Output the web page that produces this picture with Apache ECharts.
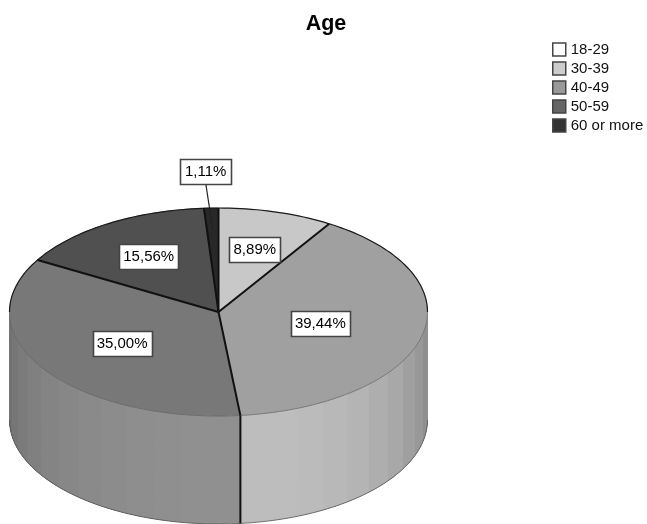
<!DOCTYPE html>
<html><head><meta charset="utf-8">
<style>html,body{margin:0;padding:0;background:#fff}#c{width:647px;height:524px;filter:blur(0.45px)}</style>
<script src="https://cdn.jsdelivr.net/npm/echarts@6/dist/echarts.min.js"></script>
</head><body><div id="c"></div>
<script>
var categories = ['18-29','30-39','40-49','50-59','60 or more'];
var values = [8.89,39.44,35.00,15.56,1.11];
var sliceColors = ['#c8c8c8','#a0a0a0','#787878','#505050','#282828'];
var legendColors = ['#ffffff','#cccccc','#999999','#666666','#333333'];
// wall shading, one shade per 8 degree band going outward from the front seam
var wallRight = ['#bdbdbd','#bdbdbd','#bbbbbb','#b8b8b8','#b4b4b4','#aeaeae','#a8a8a8','#a0a0a0','#989898','#909090','#888888'];
var wallLeft = ['#909090','#909090','#8f8f8f','#8e8e8e','#8c8c8c','#8a8a8a','#878787','#848484','#808080','#7b7b7b','#767676','#707070'];
var CX=218.5, CY=312, RX=209, RY=104, DEPTH=108, BAND=8;
var total = values.reduce(function(a,b){return a+b;},0);
var starts=[],ends=[],acc=0;
values.forEach(function(v){starts.push(acc/total*360);acc+=v;ends.push(acc/total*360);});
var labelRadius=[0.63,0.5,0.55,0.63];
function pt(deg,dy,f){var r=deg*Math.PI/180;f=f==null?1:f;return [CX+RX*f*Math.sin(r),CY-RY*f*Math.cos(r)+(dy||0)];}
function arc(a,b,dy){var n=Math.max(2,Math.ceil(Math.abs(b-a)/1.5)),o=[];for(var i=0;i<=n;i++)o.push(pt(a+(b-a)*i/n,dy));return o;}
function renderSlice(i){return function(){
  var ch=[];
  var seam=ends[1];
  var lo=Math.max(starts[i],90),hi=Math.min(ends[i],270);
  if(hi>lo){
    // each band runs on to the far end of the wall and the next one paints over it, so no gaps show
    if(i===1){ for(var k=0;k<wallRight.length;k++){var b=seam-BAND*k;if(b<=lo)break;
      ch.push({type:'polygon',shape:{points:arc(lo,b,0).concat(arc(b,lo,DEPTH))},style:{fill:wallRight[k]}});} }
    if(i===2){ for(var k=0;k<wallLeft.length;k++){var a=seam+BAND*k;if(a>=hi)break;
      ch.push({type:'polygon',shape:{points:arc(a,hi,0).concat(arc(hi,a,DEPTH))},style:{fill:wallLeft[k]}});} }
  }
  ch.push({type:'polygon',shape:{points:[[CX,CY]].concat(arc(starts[i],ends[i],0))},style:{fill:sliceColors[i],stroke:sliceColors[i],lineWidth:.5}});
  return {type:'group',children:ch};
};}
function renderOverlay(){
  var ch=[];
  ch.push({type:'polyline',shape:{points:arc(270,450,0)},style:{fill:null,stroke:'#1a1a1a',lineWidth:1.2}});
  ch.push({type:'polyline',shape:{points:arc(90,270,0)},style:{fill:null,stroke:'#666666',lineWidth:.7}});
  ch.push({type:'polyline',shape:{points:arc(90,270,DEPTH)},style:{fill:null,stroke:'#555555',lineWidth:.8}});
  ends.forEach(function(e){var p=pt(e);ch.push({type:'line',shape:{x1:CX,y1:CY,x2:p[0],y2:p[1]},style:{stroke:'#111111',lineWidth:2}});});
  var p=pt(ends[1]);
  ch.push({type:'line',shape:{x1:p[0],y1:p[1],x2:p[0],y2:p[1]+DEPTH},style:{stroke:'#111111',lineWidth:2}});
  values.forEach(function(v,i){
    var mid=(starts[i]+ends[i])/2,c,w=59,h=25;
    if(i<labelRadius.length){c=pt(mid,0,labelRadius[i]);}
    else{var q=pt(mid,0,.8);c=[q[0]-7,CY-141];w=51;
      ch.push({type:'line',shape:{x1:c[0],y1:c[1]+12,x2:q[0],y2:q[1]},style:{stroke:'#222222',lineWidth:1.2}});}
    if(i===0)w=51;
    ch.push({type:'rect',shape:{x:Math.round(c[0]-w/2)+.5,y:Math.round(c[1]-h/2)+.5,width:w,height:h},style:{fill:'#fff',stroke:'#444444',lineWidth:1.6}});
    ch.push({type:'text',x:c[0],y:c[1]+.5,style:{text:v.toFixed(2).replace('.',',')+'%',x:0,y:0,align:'center',verticalAlign:'middle',font:'15px "Liberation Sans"',fill:'#000000'}});
  });
  return {type:'group',children:ch};
}
var series=categories.map(function(n,i){return {type:'custom',name:n,coordinateSystem:'none',silent:true,animation:false,z:2,data:[[values[i]]],renderItem:renderSlice(i)};});
series.push({type:'custom',name:'labels',coordinateSystem:'none',silent:true,animation:false,z:5,data:[[0]],renderItem:renderOverlay});
var chart=echarts.init(document.getElementById('c'),null,{renderer:'canvas',width:647,height:524});
chart.setOption({
  animation:false,backgroundColor:'#ffffff',
  title:{text:'Age',left:321,top:8,textAlign:'center',textStyle:{fontFamily:'Liberation Sans',fontWeight:'bold',fontSize:21.5,color:'#000'}},
  legend:{orient:'vertical',left:552,top:42,padding:0,itemWidth:13,itemHeight:13,itemGap:4,selectedMode:false,
    textStyle:{fontFamily:'Liberation Sans',fontSize:15,color:'#111',lineHeight:15},
    data:categories.map(function(n,i){return {name:n,icon:'rect',itemStyle:{color:legendColors[i],borderColor:'#444',borderWidth:1.5}};})},
  series:series
});
</script></body></html>
